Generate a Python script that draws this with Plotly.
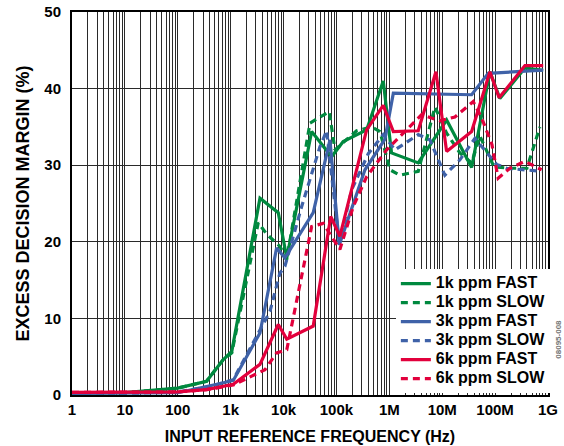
import plotly.graph_objects as go

# ---- data (frequency in Hz, excess decision margin in %) ----
g_fast_f = [1, 10, 100, 350, 720, 1050, 3580, 7940, 11.5e3, 34e3, 81e3, 134e3, 372e3, 767e3,
            1.10e6, 3.52e6, 12.1e6, 36e6, 79.8e6, 123e6, 366e6, 811e6]
g_fast_v = [0.3, 0.3, 0.9, 1.8, 4.6, 5.7, 25.7, 23.8, 17.9, 34.4, 31.1, 33.1, 34.6, 41.0,
            31.6, 30.3, 35.9, 29.7, 42.2, 38.7, 42.7, 42.4]

g_slow_f = [1, 10, 100, 350, 720, 1050, 3325, 4800, 8520, 11.5e3, 31.6e3, 45.3e3, 73e3, 93.7e3,
            241e3, 462e3, 664e3, 1.03e6, 1.59e6, 3.52e6, 7.28e6, 12.1e6, 21.6e6, 36e6, 51.6e6,
            94.9e6, 190e6, 399e6, 703e6]
g_slow_v = [0.3, 0.3, 0.9, 1.8, 4.6, 5.5, 22.5, 21.0, 19.4, 17.7, 35.5, 36.1, 37.0, 32.0,
            34.5, 35.0, 34.4, 29.4, 28.7, 29.2, 37.6, 34.2, 31.6, 30.3, 33.8,
            29.8, 29.6, 29.6, 35.0]

b_fast_f = [1, 10, 100, 550, 1120, 3580, 7400, 10.6e3, 36.4e3, 75.4e3, 113e3, 346e3, 826e3,
            1.19e6, 36e6, 74.1e6, 366e6, 811e6]
b_fast_v = [0.2, 0.2, 0.3, 1.4, 1.9, 8.1, 19.2, 17.9, 23.8, 33.3, 19.6, 29.4, 33.4,
            39.4, 39.2, 42.0, 42.2, 42.4]

b_slow_f = [1, 10, 100, 400, 1120, 2675, 5530, 8520, 10.6e3, 22e3, 48.7e3, 65.3e3, 113e3, 194e3,
            400e3, 767e3, 1.28e6, 3.52e6, 5.85e6, 11.2e6, 21.6e6, 41.5e6, 55.6e6, 107e6,
            165e6, 394e6, 757e6]
b_slow_v = [0.2, 0.2, 0.4, 1.1, 2.0, 6.8, 10.9, 15.9, 16.8, 24.6, 32.4, 34.5, 19.8, 26.8,
            31.5, 34.0, 32.0, 34.0, 33.3, 28.7, 30.7, 33.5, 32.4, 30.1,
            29.6, 29.4, 29.2]

r_fast_f = [1, 10, 100, 350, 1120, 3580, 7940, 11.5e3, 36.4e3, 78e3, 116e3, 372e3, 767e3,
            1.19e6, 3.52e6, 7.6e6, 12.1e6, 36e6, 79.8e6, 119e6, 366e6, 811e6]
r_fast_v = [0.35, 0.35, 0.4, 0.7, 1.4, 4.0, 9.2, 7.3, 9.0, 23.3, 20.7, 34.6, 37.8,
            34.4, 34.5, 42.2, 31.8, 34.4, 42.2, 38.8, 43.0, 43.0]

r_slow_f = [1, 10, 100, 350, 1120, 4450, 7400, 11.5e3, 34e3, 56.3e3, 116e3, 208e3, 372e3,
            889e3, 4.08e6, 9.05e6, 17.4e6, 38.6e6, 56.2e6, 87e6, 114e6, 190e6, 366e6, 757e6]
r_slow_v = [0.35, 0.35, 0.4, 0.7, 1.3, 3.3, 5.5, 5.9, 22.0, 22.4, 19.0, 24.6, 28.5,
            32.0, 36.6, 35.8, 36.3, 38.3, 36.1, 32.7, 28.3, 29.6, 30.5, 29.4]

series_names = ["1k ppm FAST", "1k ppm SLOW", "3k ppm FAST",
                "3k ppm SLOW", "6k ppm FAST", "6k ppm SLOW"]

tick_vals = [1, 10, 100, 1e3, 1e4, 1e5, 1e6, 1e7, 1e8, 1e9]
tick_text = ["1", "10", "100", "1k", "10k", "100k", "1M", "10M", "100M", "1G"]
minor_vals = [m * 10 ** d for d in range(9) for m in range(2, 10)]

GREEN = "#00893F"
BLUE = "#3F62A8"
RED = "#E2003C"
FONT = "Liberation Sans, Arial, sans-serif"
DASH = "7px,5px"

series = [
    (series_names[0], g_fast_f, g_fast_v, GREEN, "solid"),
    (series_names[1], g_slow_f, g_slow_v, GREEN, DASH),
    (series_names[2], b_fast_f, b_fast_v, BLUE, "solid"),
    (series_names[3], b_slow_f, b_slow_v, BLUE, DASH),
    (series_names[4], r_fast_f, r_fast_v, RED, "solid"),
    (series_names[5], r_slow_f, r_slow_v, RED, DASH),
]

fig = go.Figure()
for name, xs, ys, col, dash in series:
    fig.add_trace(go.Scatter(
        x=xs, y=ys, mode="lines",
        # legend row pitch follows the (small) legend font; the label itself is larger
        name="<span style='font-size:16px'>" + name + "</span>",
        line=dict(color=col, width=3.2, dash=dash)))

fig.update_layout(
    width=564, height=446,
    margin=dict(l=72, r=16, t=12, b=51, autoexpand=False),
    paper_bgcolor="white", plot_bgcolor="white",
    font=dict(family=FONT, size=15, color="black", weight="bold"),
    showlegend=True,
    legend=dict(x=1.006, y=0.005, xanchor="right", yanchor="bottom",
                bgcolor="white", borderwidth=0,
                font=dict(family=FONT, size=11, color="black", weight="bold"),
                itemwidth=30, tracegroupgap=0),
)
fig.update_xaxes(
    type="log", range=[0, 9], automargin=False,
    tickmode="array", tickvals=tick_vals, ticktext=tick_text,
    showgrid=True, gridcolor="#2a2a2a", gridwidth=1.2,
    minor=dict(tickmode="array", tickvals=minor_vals, showgrid=True,
               gridcolor="#2a2a2a", gridwidth=1.2, ticks=""),
    showline=True, linecolor="black", linewidth=2, mirror=True,
    ticks="", zeroline=False,
    tickfont=dict(family=FONT, size=15, color="black", weight="bold"),
    title=dict(text="INPUT REFERENCE FREQUENCY (Hz)", standoff=14,
               font=dict(family=FONT, size=16, color="black", weight="bold")),
)
fig.update_yaxes(
    range=[0, 50], dtick=10, tick0=0, automargin=False,
    showgrid=True, gridcolor="#2a2a2a", gridwidth=1.2,
    showline=True, linecolor="black", linewidth=2, mirror=True,
    ticks="outside", ticklen=6, tickcolor="rgba(0,0,0,0)", zeroline=False,
    tickfont=dict(family=FONT, size=15, color="black", weight="bold"),
    title=dict(text="EXCESS DECISION MARGIN (%)", standoff=10,
               font=dict(family=FONT, size=18, color="black", weight="bold")),
)
fig.add_annotation(text="08095-008", xref="paper", yref="paper",
                   x=1.034, y=0.09, textangle=-90, showarrow=False,
                   font=dict(family=FONT, size=8, color="#777"))

fig.write_html("out.html", config={"displayModeBar": False},
               post_script="document.body.style.margin='0';document.body.style.overflow='hidden';")
